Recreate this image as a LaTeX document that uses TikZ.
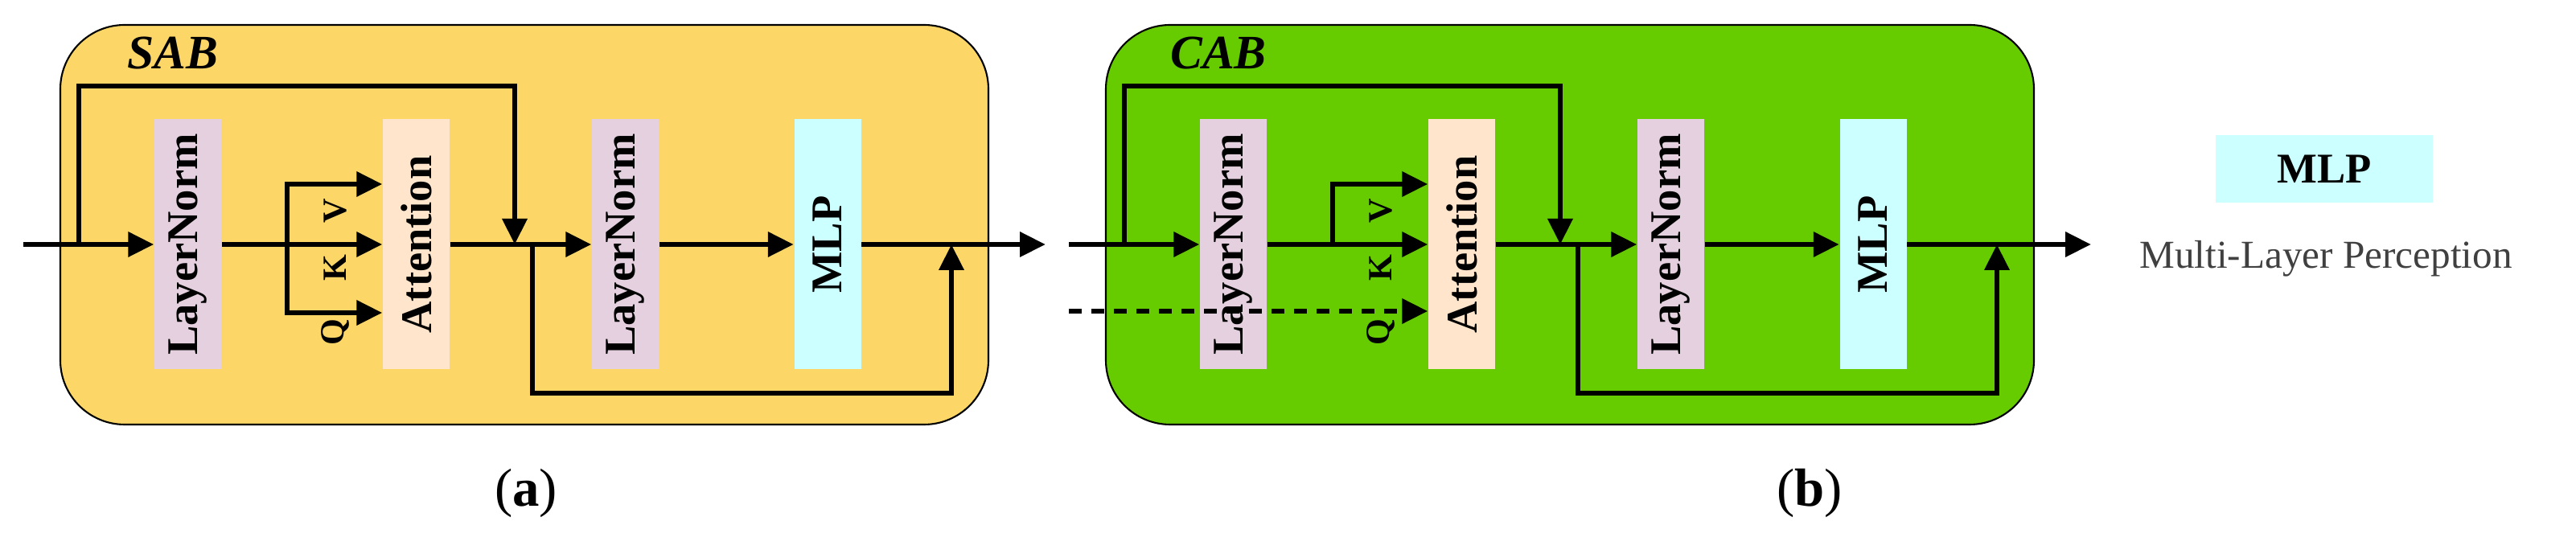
\documentclass[tikz,border=0pt]{standalone}
\usepackage{fontspec}
\setmainfont{Liberation Serif}
\usetikzlibrary{arrows.meta}
\definecolor{sabfill}{HTML}{FCD768}
\definecolor{cabfill}{HTML}{66CC00}
\definecolor{lnfill}{HTML}{E4D0DF}
\definecolor{atfill}{HTML}{FFE5CC}
\definecolor{mlpfill}{HTML}{CCFFFF}
\tikzset{
  arr/.style={line width=1.9pt,-{Triangle[length=0.32cm,width=0.3cm]}},
  blk/.style={minimum width=3.11cm,minimum height=0.83cm,inner sep=0pt,font=\bfseries\fontsize{15.5}{16}\selectfont},
  grp/.style={draw=black,line width=0.6pt,rounded corners=0.8cm},
  qkv/.style={rotate=90,font=\bfseries\fontsize{12}{12}\selectfont},
  ttl/.style={font=\bfseries\itshape\fontsize{17}{17}\selectfont},
  captxt/.style={font=\fontsize{19}{19}\selectfont}
}
\begin{document}
\begin{tikzpicture}
\useasboundingbox (0,0) rectangle (32.03,-6.94);
% ---------- SAB ----------
\draw[grp,fill=sabfill] (0.75,-0.31) rectangle (12.29,-5.28);
\node[ttl] (sabt) at (2.15,-0.66) {SAB};
\node[blk,fill=lnfill,rotate=90] (aln1) at (2.335,-3.04) {LayerNorm};
\node[blk,fill=atfill,rotate=90] (aat) at (5.175,-3.04) {Attention};
\node[blk,fill=lnfill,rotate=90] (aln2) at (7.775,-3.04) {LayerNorm};
\node[blk,fill=mlpfill,rotate=90] (amlp) at (10.29,-3.04) {MLP};
\coordinate (ain) at (0.29,-3.04);
\coordinate (aout) at (13.00,-3.04);
\coordinate (as1) at (0.98,-3.04);
\coordinate (as1e) at (6.40,-3.04);
\coordinate (abr) at (3.57,-3.04);
\coordinate (as2) at (6.62,-3.04);
\coordinate (as2e) at (11.83,-3.04);
\draw[arr] (ain) -- (aln1.north);
\draw[arr] (as1) -- (0.98,-1.07) -| (as1e);
\draw[arr] (aln1.south) -- (aat.north);
\draw[arr] (abr) |- (aat.north |- 0,-2.29);
\draw[arr] (abr) |- (aat.north |- 0,-3.89);
\draw[arr] (aat.south) -- (aln2.north);
\draw[arr] (aln2.south) -- (amlp.north);
\draw[arr] (amlp.south) -- (aout);
\draw[arr] (as2) -- (6.62,-4.89) -| (as2e);
\node[qkv] (av) at (4.17,-2.62) {V};
\node[qkv] (ak) at (4.17,-3.33) {K};
\node[qkv] (aq) at (4.17,-4.13) {Q};
\node[captxt] (capa) at (6.54,-6.13) {(\textbf{a})};
% ---------- CAB ----------
\draw[grp,fill=cabfill] (13.75,-0.31) rectangle (25.29,-5.28);
\node[ttl] (cabt) at (15.15,-0.66) {CAB};
\node[blk,fill=lnfill,rotate=90] (bln1) at (15.335,-3.04) {LayerNorm};
\node[blk,fill=atfill,rotate=90] (bat) at (18.175,-3.04) {Attention};
\node[blk,fill=lnfill,rotate=90] (bln2) at (20.775,-3.04) {LayerNorm};
\node[blk,fill=mlpfill,rotate=90] (bmlp) at (23.29,-3.04) {MLP};
\coordinate (bin) at (13.29,-3.04);
\coordinate (bq) at (13.29,-3.87);
\coordinate (bout) at (26.00,-3.04);
\coordinate (bs1) at (13.98,-3.04);
\coordinate (bs1e) at (19.40,-3.04);
\coordinate (bbr) at (16.57,-3.04);
\coordinate (bs2) at (19.62,-3.04);
\coordinate (bs2e) at (24.83,-3.04);
\draw[arr] (bin) -- (bln1.north);
\draw[arr] (bs1) -- (13.98,-1.07) -| (bs1e);
\draw[arr] (bln1.south) -- (bat.north);
\draw[arr] (bbr) |- (bat.north |- 0,-2.29);
\draw[arr,dash pattern=on 0.16cm off 0.12cm] (bq) -- (bat.north |- bq);
\draw[arr] (bat.south) -- (bln2.north);
\draw[arr] (bln2.south) -- (bmlp.north);
\draw[arr] (bmlp.south) -- (bout);
\draw[arr] (bs2) -- (19.62,-4.89) -| (bs2e);
\node[qkv] (bv) at (17.17,-2.62) {V};
\node[qkv] (bk) at (17.17,-3.33) {K};
\node[qkv] (bqq) at (17.17,-4.13) {Q};
\node[captxt] (capb) at (22.50,-6.13) {(\textbf{b})};
% ---------- legend ----------
\node[fill=mlpfill,minimum width=2.70cm,minimum height=0.84cm,inner sep=0pt,font=\bfseries\fontsize{15}{15}\selectfont] (lmlp) at (28.90,-2.10) {MLP};
\node[text=black!75,font=\fontsize{14}{14}\selectfont] (ltxt) at (28.92,-3.22) {Multi-Layer Perception};
\end{tikzpicture}
\end{document}
